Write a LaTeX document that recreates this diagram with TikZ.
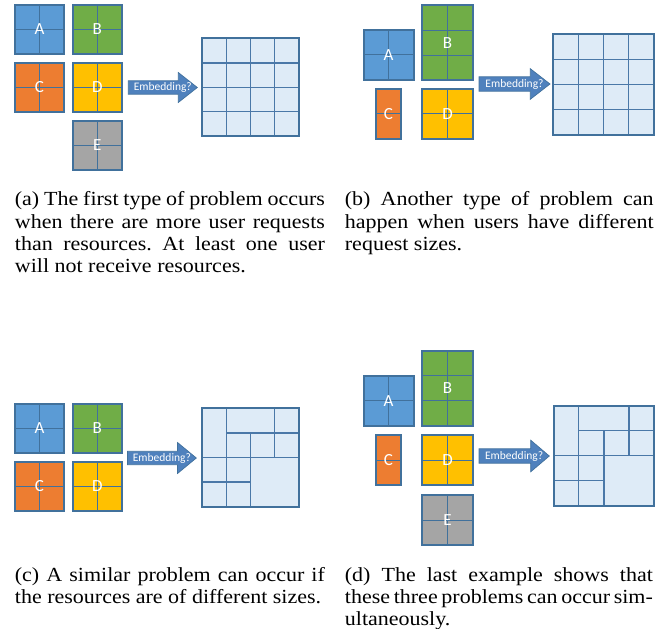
\documentclass[tikz,border=0pt]{standalone}
\usepackage{graphicx}
\usepackage{fontspec}
\setmainfont{Liberation Serif}
\newfontfamily\calib{Carlito}
\frenchspacing
\definecolor{cA}{HTML}{5B9BD5}
\definecolor{cB}{HTML}{70AD47}
\definecolor{cC}{HTML}{ED7D31}
\definecolor{cD}{HTML}{FFC000}
\definecolor{cE}{HTML}{A5A5A5}
\definecolor{bord}{HTML}{41719C}
\definecolor{gfill}{HTML}{DEEBF7}
\definecolor{gline}{HTML}{4A78A8}
\definecolor{afill}{HTML}{4F81BD}
\definecolor{abord}{HTML}{41719C}
\tikzset{
  ublock/.style={draw=bord, line width=2pt, inner sep=0pt, outer sep=0pt, rectangle},
  innerline/.style={draw=bord, line width=1pt},
  ulabel/.style={text=white, font=\calib\fontsize{17}{17}\selectfont, inner sep=0pt},
  gridbox/.style={fill=gfill, draw=bord, line width=2pt, inner sep=0pt, outer sep=0pt, rectangle},
  gridline/.style={draw=gline, line width=1.3pt},
  gridborder/.style={draw=bord, line width=2pt},
  embarrowsty/.style={fill=afill, draw=abord, line width=0.7pt, line join=miter},
  embtext/.style={text=white, font=\calib\fontsize{11.5}{12}\selectfont, inner sep=0pt},
  capline/.style={font=\fontsize{20}{22}\selectfont, inner sep=0pt, anchor=base west},
}
% caption line: width in px (after horizontal scaling 1.1), text
\newcommand\capjust[2]{\scalebox{1.1}[1]{\makebox[\dimexpr #1pt*10/11\relax][s]{#2}}}
\newcommand\capnat[1]{\scalebox{1.1}[1]{#1}}
% name, x0, y0, x1, y1, cols, rows, color, label
\newcommand\userblock[9]{%
  \fill[#8] (#2,#3) rectangle (#4,#5);
  \ifnum#6>1 \foreach \i in {2,...,#6}{\draw[innerline] ({#2+(\i-1)*(#4-#2)/#6},#3) -- ({#2+(\i-1)*(#4-#2)/#6},#5);}\fi
  \ifnum#7>1 \foreach \j in {2,...,#7}{\draw[innerline] (#2,{#3+(\j-1)*(#5-#3)/#7}) -- (#4,{#3+(\j-1)*(#5-#3)/#7});}\fi
  \node[ublock, minimum width={#4-#2}, minimum height={#5-#3}, anchor=north west] (#1) at (#2,#3) {};
  \node[ulabel] (#1-l) at (#1.center) {#9};
}
% name, x0, head x, tip x, center y, body half, head half
\newcommand\embarrow[7]{%
  \draw[embarrowsty] (#2,{#5-#6}) -- (#3,{#5-#6}) -- (#3,{#5-#7}) -- (#4,#5) -- (#3,{#5+#7}) -- (#3,{#5+#6}) -- (#2,{#5+#6}) -- cycle;
  \node[embtext] (#1) at ({(#2+#4)/2},#5) {Embedding?};
}
\newcommand\fullgridlines{\draw[gridline] (1,0)--(1,4) (2,0)--(2,4) (3,0)--(3,4) (0,1)--(4,1) (0,2)--(4,2) (0,3)--(4,3);}
\newcommand\mixgridlines{\draw[gridline] (1,0)--(1,4) (2,1)--(2,4) (3,0)--(3,2) (1,1)--(4,1) (0,2)--(4,2) (0,3)--(2,3);}
% name, x0, y0, x1, y1, lines macro
\newcommand\resgrid[6]{%
  \node[gridbox, minimum width={#4-#2}, minimum height={#5-#3}, anchor=north west] (#1) at (#2,#3) {};
  \pgfmathsetmacro\gcw{(#4-#2)/4}%
  \pgfmathsetmacro\gch{(#5-#3)/4}%
  \begin{scope}[shift={(#2,#3)}, x=\gcw pt, y=-\gch pt]
    #6
  \end{scope}
  \draw[gridborder] (#1.north west) rectangle (#1.south east);
}
\begin{document}
\begin{tikzpicture}[x=1pt, y=-1pt]
\useasboundingbox (0,0) rectangle (660,628);
% ---------- (a)
\userblock{aA}{15}{5}{64}{54}{2}{2}{cA}{A}
\userblock{aB}{73}{5}{121.5}{54}{2}{2}{cB}{B}
\userblock{aC}{15}{63}{64}{112}{2}{2}{cC}{C}
\userblock{aD}{73}{63}{121.5}{112}{2}{2}{cD}{D}
\userblock{aE}{73}{121}{121.5}{170}{2}{2}{cE}{E}
\embarrow{aArr}{128.3}{178.3}{197.3}{87.5}{6.7}{15}
\resgrid{aG}{202}{38.5}{299}{136}{\fullgridlines}
% ---------- (b)
\userblock{bA}{363.5}{30}{413.7}{80}{2}{2}{cA}{A}
\userblock{bB}{422.3}{5.3}{472.7}{80}{2}{3}{cB}{B}
\userblock{bC}{375.7}{89}{401}{139}{1}{2}{cC}{C}
\userblock{bD}{422.3}{89}{472.7}{139}{2}{2}{cD}{D}
\embarrow{bArr}{479}{530.3}{550}{84}{7.2}{15.3}
\resgrid{bG}{553.3}{34}{654}{134.7}{\fullgridlines}
% ---------- (c)
\userblock{cA}{15}{404}{64}{453}{2}{2}{cA}{A}
\userblock{cB}{73}{404}{121.5}{453}{2}{2}{cB}{B}
\userblock{cC}{15}{462}{64}{511}{2}{2}{cC}{C}
\userblock{cD}{73}{462}{121.5}{511}{2}{2}{cD}{D}
\embarrow{cArr}{127.5}{177.5}{196.3}{458}{6.7}{15.5}
\resgrid{cG}{202}{408.3}{299}{506.7}{\mixgridlines}
% ---------- (d)
\userblock{dA}{363.5}{375.7}{413.7}{425.7}{2}{2}{cA}{A}
\userblock{dB}{422.3}{351}{472.7}{425.7}{2}{3}{cB}{B}
\userblock{dC}{375.7}{435}{401}{485.3}{1}{2}{cC}{C}
\userblock{dD}{422.3}{435}{472.7}{485.3}{2}{2}{cD}{D}
\userblock{dE}{422.3}{495}{472.7}{545}{2}{2}{cE}{E}
\embarrow{dArr}{479}{530.7}{549.3}{456}{7.2}{15.8}
\resgrid{dG}{553.7}{405.7}{654}{505.7}{\mixgridlines}
% ---------- captions
\node[capline] (capa1) at (14.7,206) {\capjust{310}{(a) The first type of problem occurs}};
\node[capline] (capa2) at (14.7,228) {\capjust{310}{when there are more user requests}};
\node[capline] (capa3) at (14.7,250) {\capjust{310}{than resources. At least one user}};
\node[capline] (capa4) at (14.7,272) {\capnat{will not receive resources.}};
\node[capline] (capb1) at (344.7,206) {\capjust{308.7}{(b) Another type of problem can}};
\node[capline] (capb2) at (344.7,228) {\capjust{308.7}{happen when users have different}};
\node[capline] (capb3) at (344.7,250) {\capnat{request sizes.}};
\node[capline] (capc1) at (14.7,581) {\capjust{310}{(c) A similar problem can occur if}};
\node[capline] (capc2) at (14.7,603) {\capnat{the resources are of different sizes.}};
\node[capline] (capd1) at (344.7,581) {\capjust{308}{(d) The last example shows that}};
\node[capline] (capd2) at (344.7,603) {\capjust{308}{these three problems can occur sim-}};
\node[capline] (capd3) at (344.7,625) {\capnat{ultaneously.}};
\end{tikzpicture}
\end{document}
